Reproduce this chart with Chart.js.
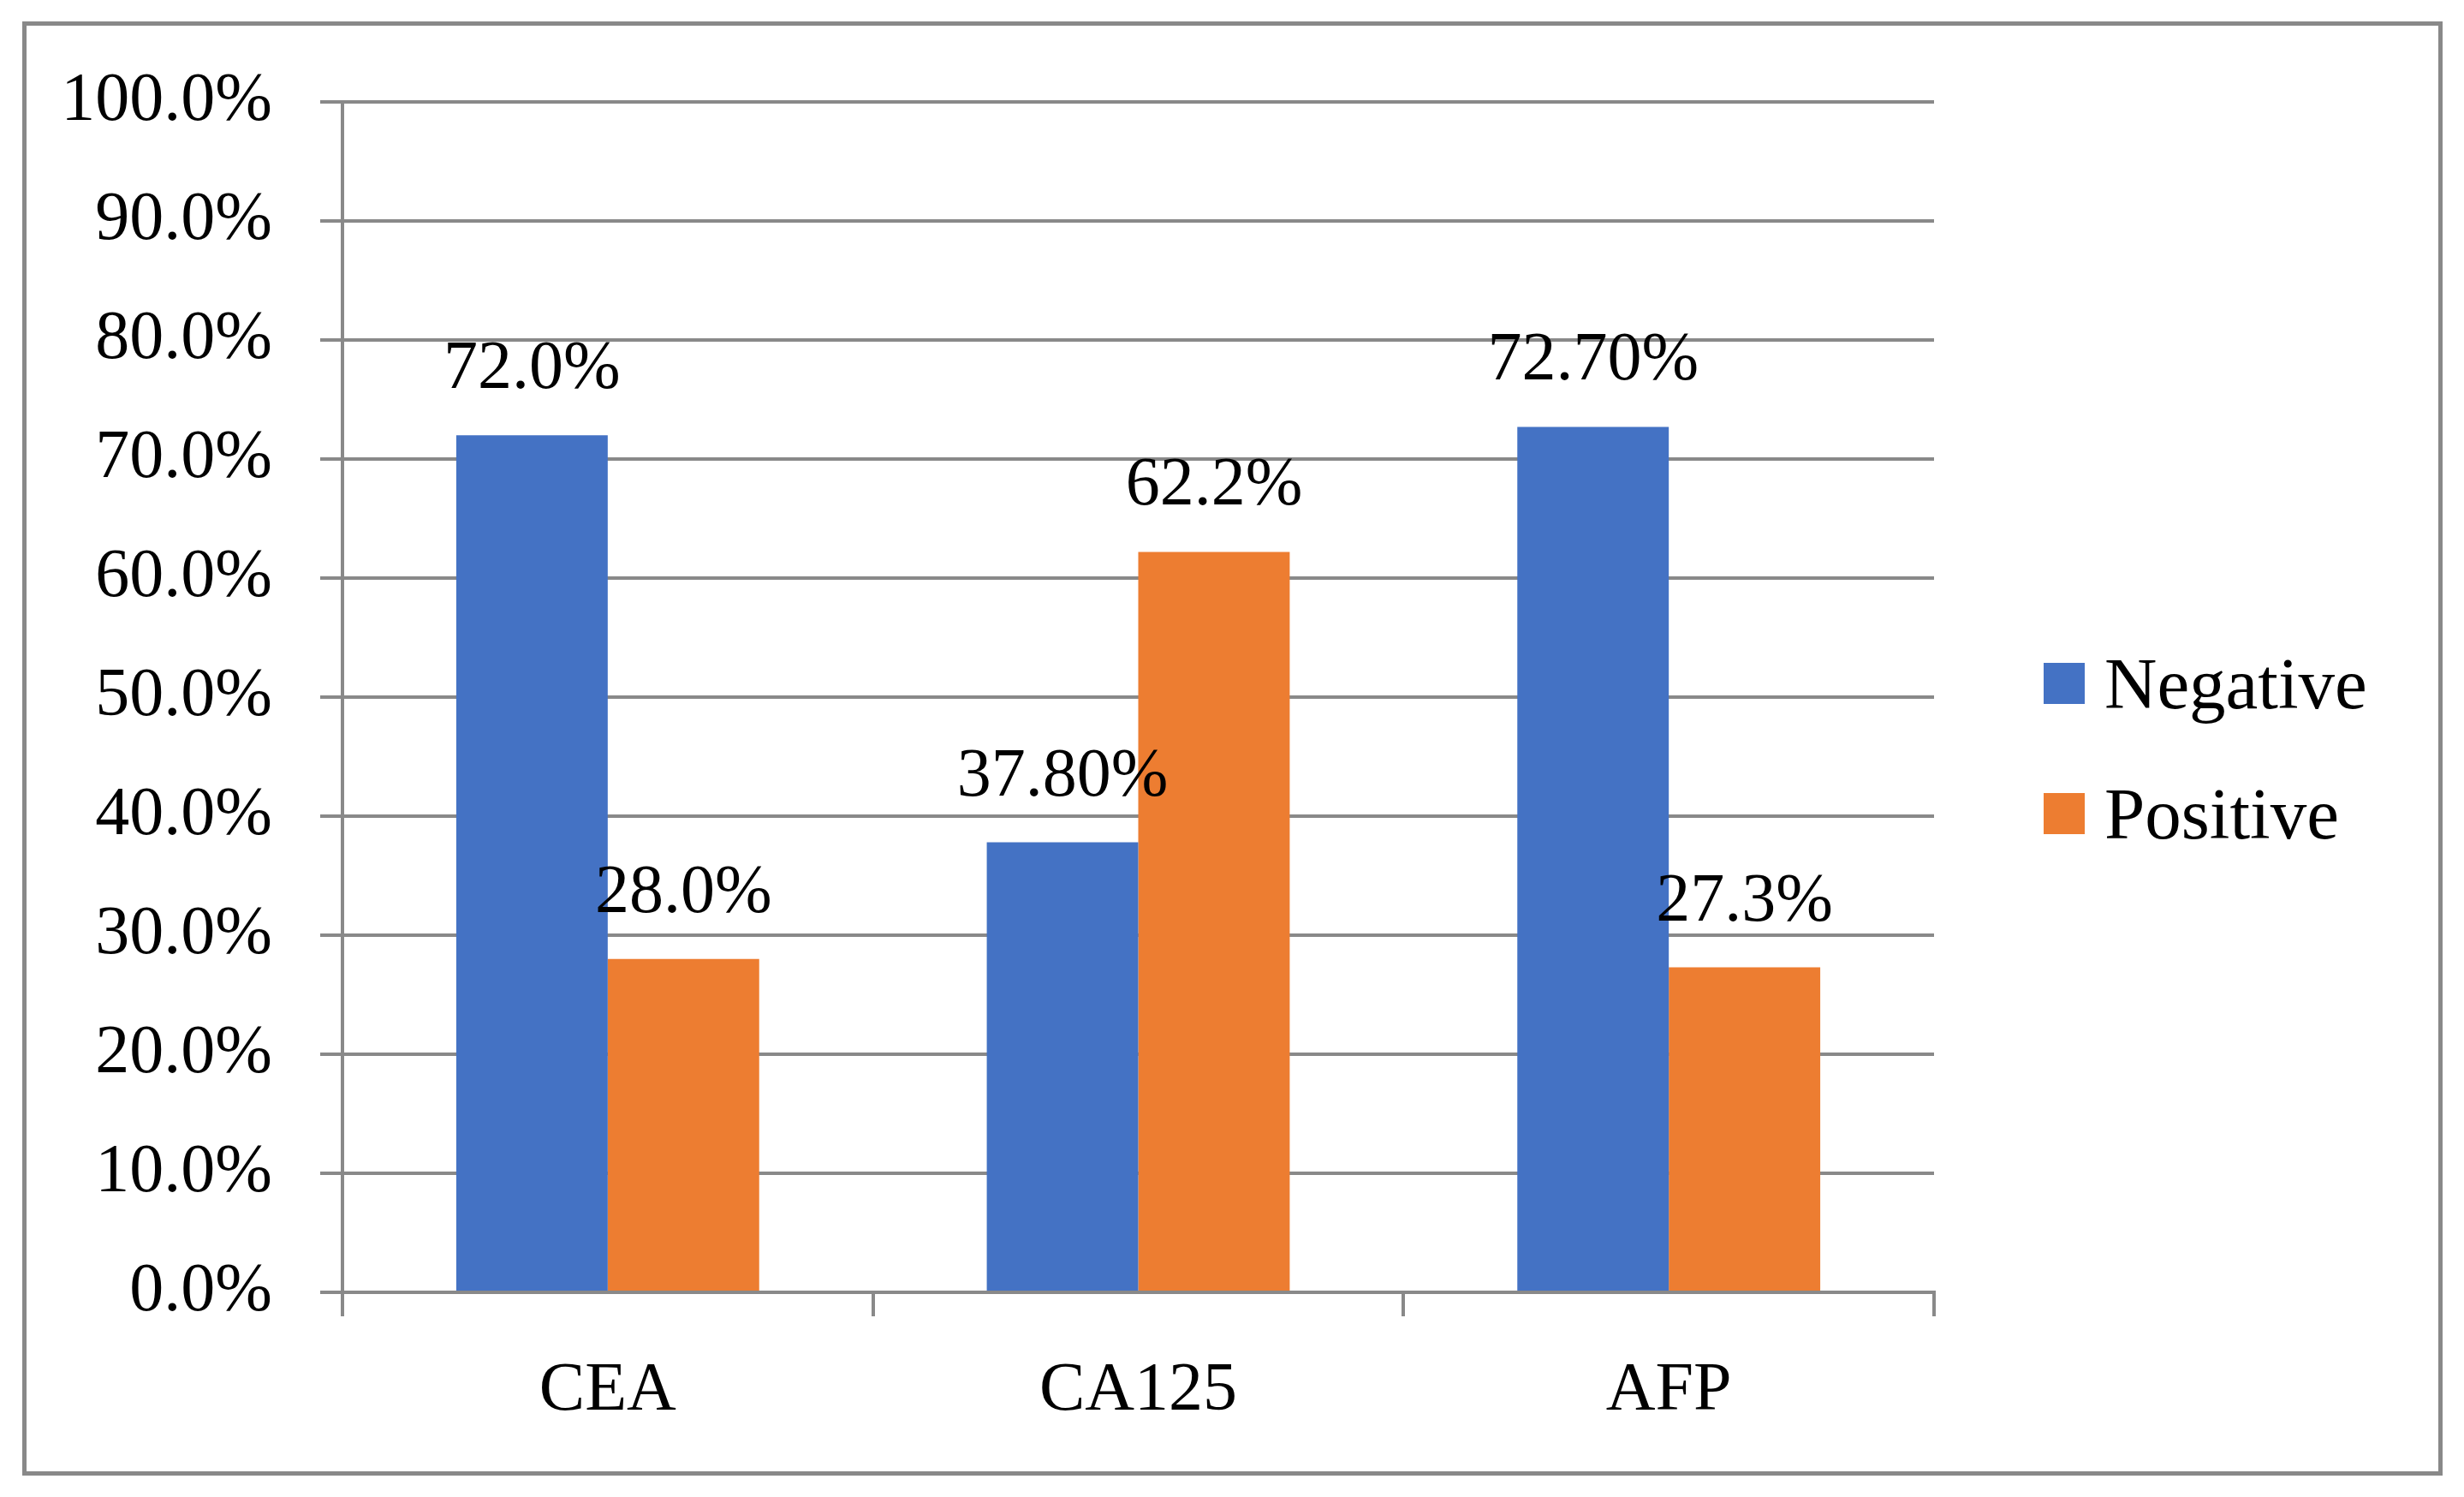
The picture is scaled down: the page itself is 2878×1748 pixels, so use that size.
<!DOCTYPE html>
<html lang="en">
<head>
    <meta charset="UTF-8">
    <title>Tumor markers</title>
    <script src="https://cdn.jsdelivr.net/npm/chart.js"></script>
    <style>
        body {
    margin: 0;
    background-color: #FFF;
    overflow: hidden;
    font-family: "Liberation Serif", serif;
}
.frame {
    position: absolute;
    left: 26px;
    top: 25px;
    width: 2817px;
    height: 1688px;
    border: 5px solid #898989;
}
#markerChart {
    position: absolute;
    left: 0;
    top: 0;
}
#legend {
    position: absolute;
    left: 2387px;
    top: 722px;
}
.legend-item {
    display: flex;
    align-items: center;
    height: 152px;
    font-size: 85px;
    line-height: 1;
    color: #000;
}
.legend-box {
    width: 48px;
    height: 48px;
    margin-right: 23px;
}
    </style>
</head>
<body>
    <div class="frame"></div>
    <canvas id="markerChart" width="2878" height="1748"></canvas>
    <div id="legend"></div>

    <script>
        // data
        const markers = ['CEA', 'CA125', 'AFP'];
        const negative = [72.0, 37.8, 72.7];
        const positive = [28.0, 62.2, 27.3];
        // labels as printed on the figure (formatting is not consistent there)
        const negativeLabels = ['72.0%', '37.80%', '72.70%'];
        const positiveLabels = ['28.0%', '62.2%', '27.3%'];

        const FONT = '"Liberation Serif", serif';
        const GREY = '#898989';

        // writes the value text above each bar
        const barLabels = {
            id: 'barLabels',
            afterDatasetsDraw(chart) {
                const ctx = chart.ctx;
                ctx.save();
                ctx.font = '80px ' + FONT;
                ctx.fillStyle = '#000';
                ctx.textAlign = 'center';
                ctx.textBaseline = 'alphabetic';
                chart.data.datasets.forEach((ds, di) => {
                    const meta = chart.getDatasetMeta(di);
                    meta.data.forEach((bar, i) => {
                        ctx.fillText(ds.valueLabels[i], bar.x, bar.y - 55);
                    });
                });
                ctx.restore();
            }
        };

        const ctx = document.getElementById('markerChart').getContext('2d');
        const chart = new Chart(ctx, {
            type: 'bar',
            data: {
                labels: markers,
                datasets: [{
                    label: 'Negative',
                    data: negative,
                    valueLabels: negativeLabels,
                    backgroundColor: '#4472C4'
                }, {
                    label: 'Positive',
                    data: positive,
                    valueLabels: positiveLabels,
                    backgroundColor: '#ED7D31'
                }]
            },
            options: {
                responsive: false,
                animation: false,
                layout: {
                    padding: { left: 0, top: 119, right: 619, bottom: 79 }
                },
                datasets: {
                    bar: { categoryPercentage: 0.571, barPercentage: 1.0 }
                },
                plugins: {
                    legend: { display: false },
                    tooltip: { enabled: false }
                },
                scales: {
                    x: {
                        afterFit(scale) { scale.height = 160; },
                        grid: {
                            display: true,
                            drawOnChartArea: false,
                            offset: true,
                            color: GREY,
                            lineWidth: 4,
                            tickLength: 28
                        },
                        border: { display: true, color: GREY, width: 4 },
                        ticks: {
                            color: '#000',
                            padding: 40,
                            font: { family: FONT, size: 80 }
                        }
                    },
                    y: {
                        min: 0,
                        max: 100,
                        afterFit(scale) { scale.width = 400; },
                        grid: {
                            color: GREY,
                            lineWidth: 4,
                            tickLength: 26
                        },
                        border: { display: true, color: GREY, width: 4 },
                        ticks: {
                            stepSize: 10,
                            color: '#000',
                            padding: 56,
                            font: { family: FONT, size: 80 },
                            callback: (v) => v.toFixed(1) + '%'
                        }
                    }
                }
            },
            plugins: [barLabels]
        });

        // html legend built from the datasets
        const legend = document.getElementById('legend');
        chart.data.datasets.forEach(ds => {
            const item = document.createElement('div');
            item.className = 'legend-item';
            const box = document.createElement('span');
            box.className = 'legend-box';
            box.style.backgroundColor = ds.backgroundColor;
            item.appendChild(box);
            item.appendChild(document.createTextNode(ds.label));
            legend.appendChild(item);
        });
    </script>
</body>
</html>
